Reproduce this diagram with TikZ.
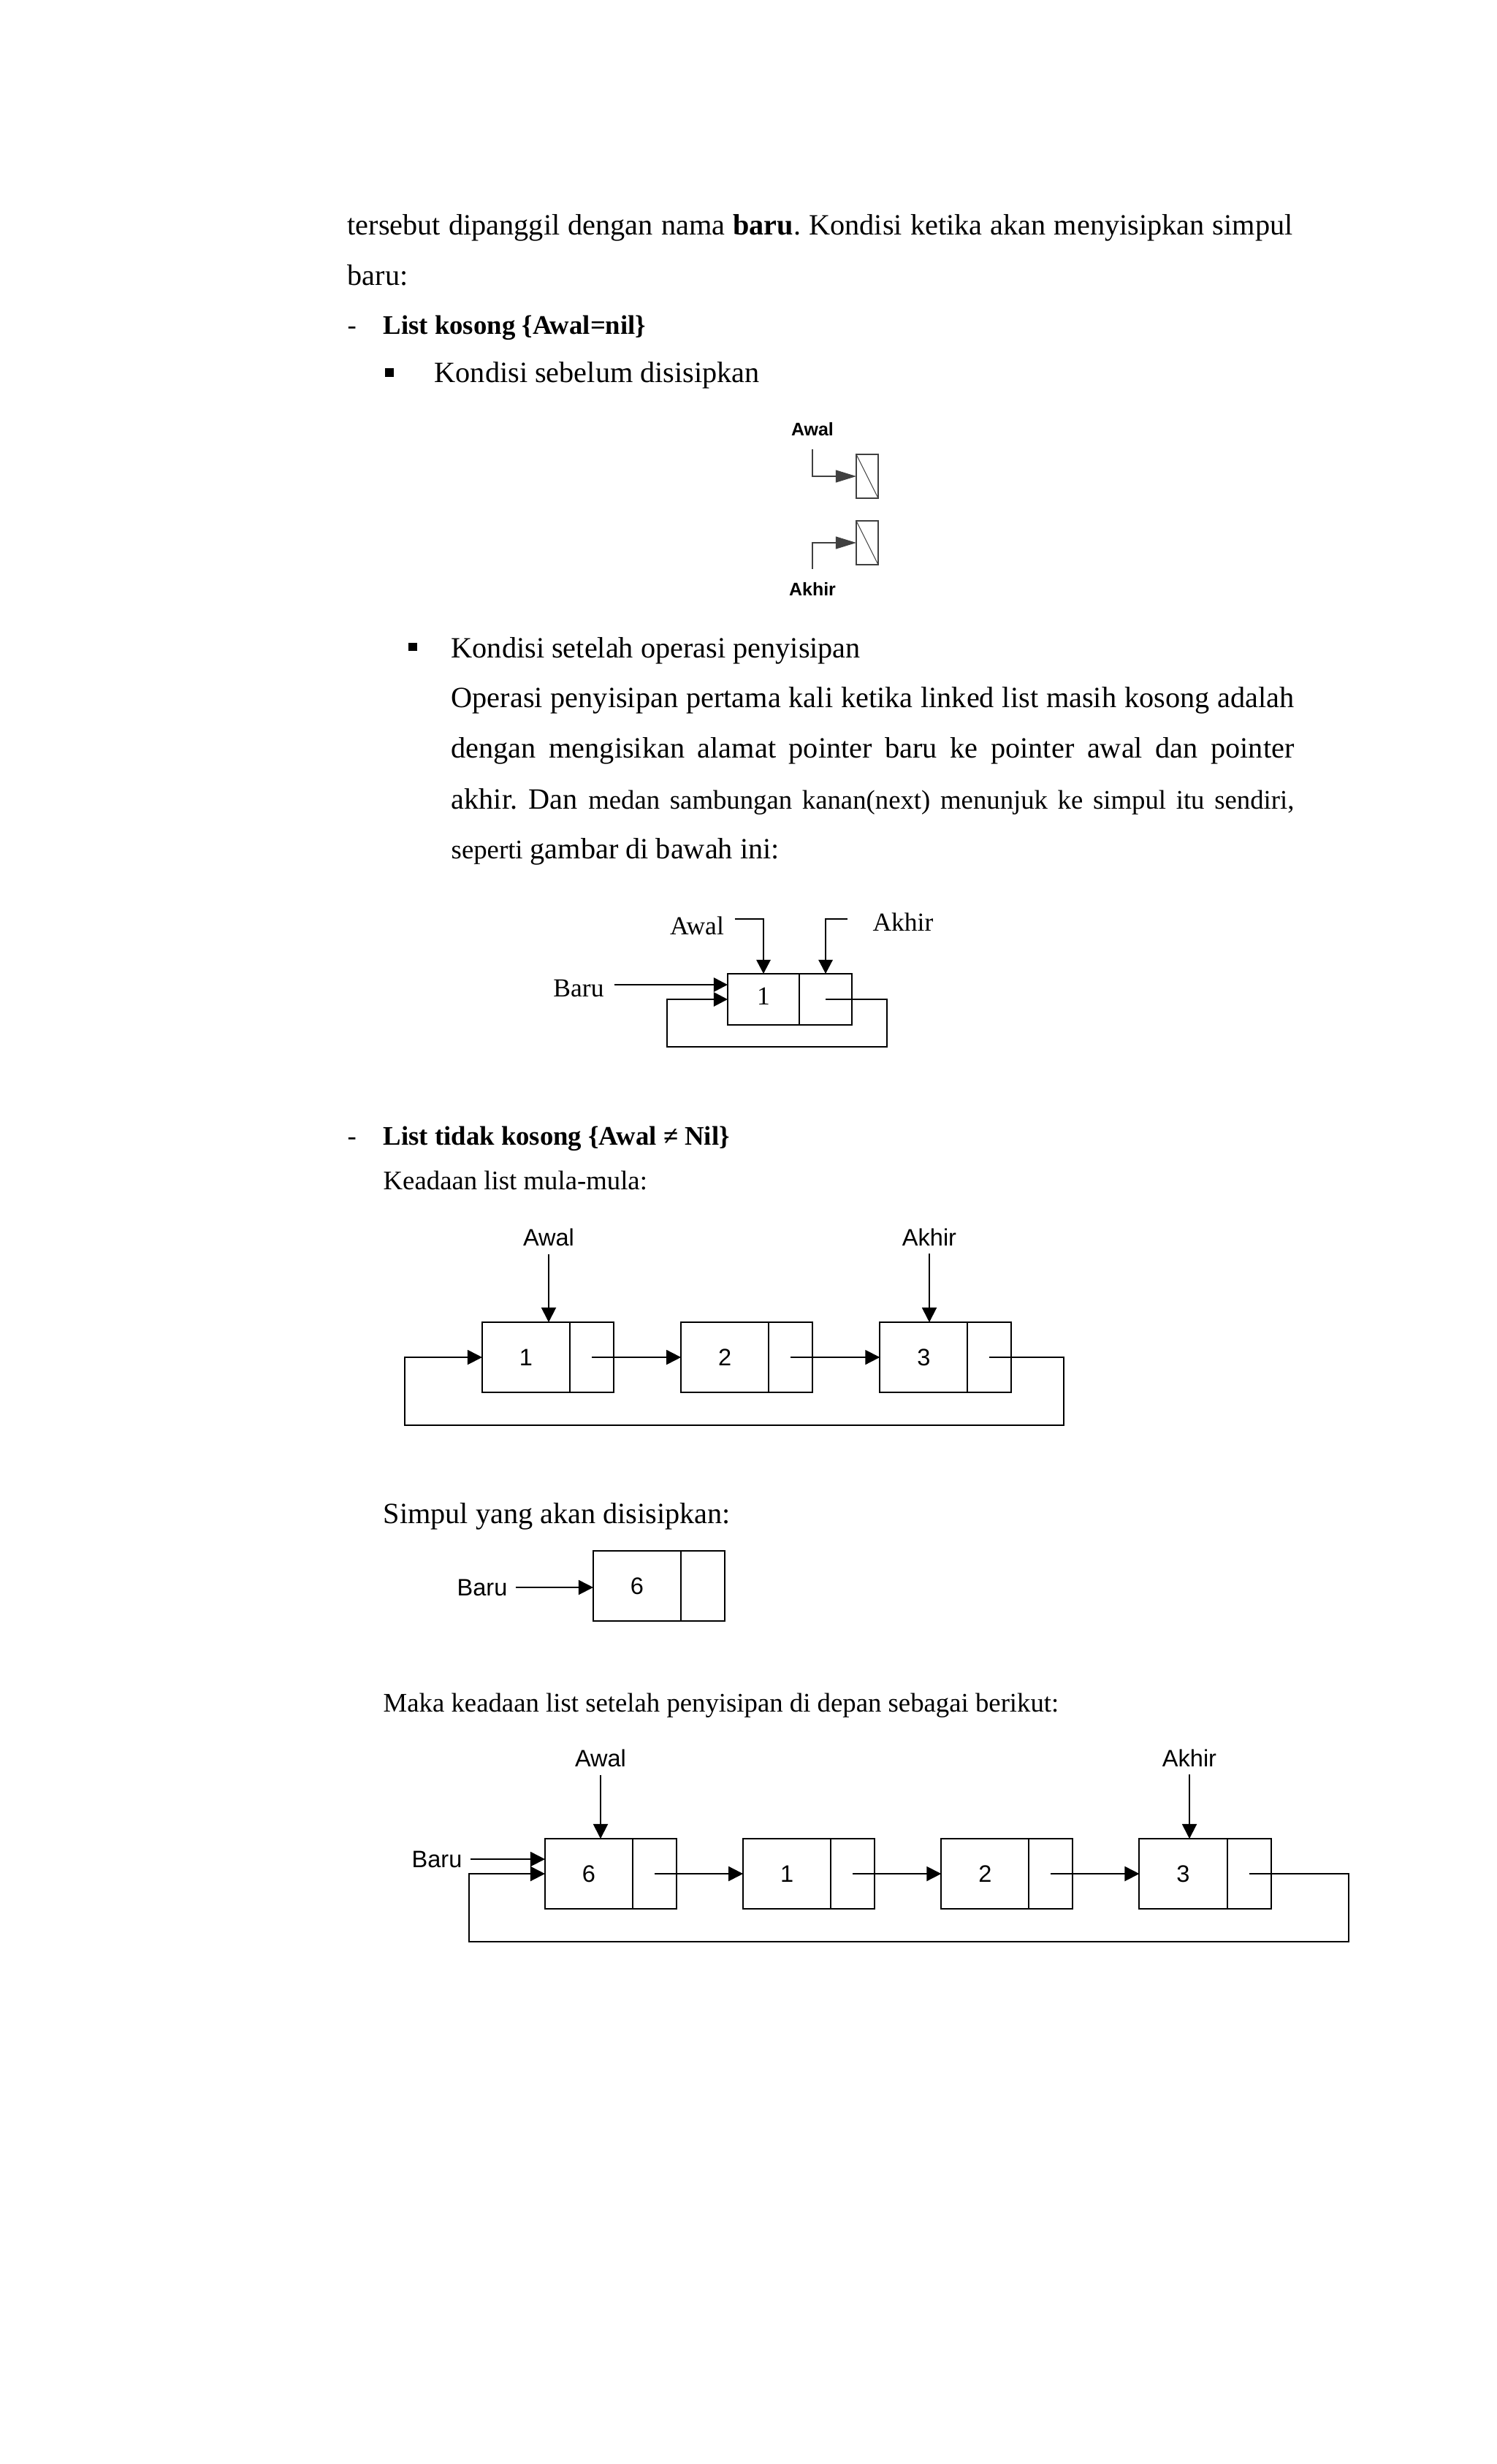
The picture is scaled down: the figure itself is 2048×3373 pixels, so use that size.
\documentclass[tikz,border=0pt]{standalone}
\usepackage{fontspec}
\setmainfont{Liberation Serif}
\newfontfamily\arialfont{Liberation Sans}
\usetikzlibrary{arrows.meta,positioning}
\frenchspacing

\newcommand{\bodysize}{\fontsize{11.45pt}{13pt}\selectfont}
\newcommand{\smallsize}{\fontsize{10.45pt}{12pt}\selectfont}
\newcommand{\labelsize}{\arialfont\fontsize{9.25pt}{11pt}\selectfont}
\newcommand{\tinylabel}{\arialfont\bfseries\fontsize{7.1pt}{8pt}\selectfont}
\newcommand{\serlabel}{\fontsize{10.1pt}{12pt}\selectfont}

\begin{document}
\begin{tikzpicture}[x=0.01cm, y=-0.01cm,
    txt/.style={anchor=base west, inner sep=0pt, font=\bodysize},
    smalltxt/.style={anchor=base west, inner sep=0pt, font=\smallsize},
    sqbullet/.style={fill, inner sep=0pt, minimum width=0.12cm, minimum height=0.11cm},
    lbl/.style={inner sep=3pt, font=\labelsize},
    datacell/.style={draw, line width=0.55pt, outer sep=0pt, inner sep=0pt, minimum width=1.2cm, minimum height=0.96cm, font=\labelsize},
    ptrcell/.style={draw, line width=0.55pt, outer sep=0pt, inner sep=0pt, minimum width=0.6cm, minimum height=0.96cm},
    link/.style={-{Triangle[length=0.2cm, width=0.2cm]}, line width=0.55pt},
    % first-insert picture
    datacell2/.style={draw, line width=0.8pt, outer sep=0pt, inner sep=0pt, minimum width=0.98cm, minimum height=0.7cm, font=\serlabel},
    ptrcell2/.style={draw, line width=0.8pt, outer sep=0pt, inner sep=0pt, minimum width=0.72cm, minimum height=0.7cm},
    lbl2/.style={inner sep=4pt, font=\serlabel},
    link2/.style={-{Triangle[length=0.19cm, width=0.19cm]}, line width=0.8pt},
    % empty list picture
    nilbox/.style={draw=black!75, line width=0.3pt, outer sep=0pt, inner sep=0pt, minimum width=0.3cm, minimum height=0.6cm},
    nillink/.style={-{Triangle[length=0.28cm, width=0.17cm]}, draw=black!75, line width=0.3pt}
]
\useasboundingbox (0,0) rectangle (2048,3373);

% text above
\node[txt] (l1) at (475,322) {\makebox[12.93cm][s]{tersebut dipanggil dengan nama \textbf{baru}. Kondisi ketika akan menyisipkan simpul}};
\node[txt] (l2) at (475,391) {baru:};
\node[smalltxt] (dash1) at (475,458) {-};
\node[smalltxt] (head1) at (524,458) {\textbf{List kosong \{Awal=nil\}}};
\node[sqbullet] (sq1) at (533,510) {};
\node[txt] (sub1) at (594,523) {Kondisi sebelum disisipkan};

% empty list
\node[nilbox] (nil1) at (1187,652) {};
\node[nilbox] (nil2) at (1187,743) {};
\draw[draw=black!75, line width=0.3pt] (nil1.north west) -- (nil1.south east);
\draw[draw=black!75, line width=0.3pt] (nil2.north west) -- (nil2.south east);
\node[font=\tinylabel, inner sep=5pt] (awal1) at (1112,588) {Awal};
\node[font=\tinylabel, inner sep=5pt] (akhir1) at (1112,806) {Akhir};
\draw[nillink] (awal1.south) |- (nil1.west);
\draw[nillink] (akhir1.north) |- (nil2.west);

\node[sqbullet] (sq2) at (565,885) {};
\node[txt] (sub2) at (617,900) {Kondisi setelah operasi penyisipan};
\node[txt] (p1) at (617,968) {\makebox[11.53cm][s]{Operasi penyisipan pertama kali ketika linked list masih kosong adalah}};
\node[txt] (p2) at (617,1037) {\makebox[11.53cm][s]{dengan mengisikan alamat pointer baru ke pointer awal dan pointer}};
\node[txt] (p3) at (617,1107) {\makebox[11.53cm][s]{akhir. Dan {\smallsize medan sambungan kanan(next) menunjuk ke simpul itu sendiri,}}};
\node[txt] (p4) at (617,1175) {{\smallsize seperti} gambar di bawah ini:};

% first node
\node[datacell2] (c1) at (1045,1368) {\raisebox{2.5pt}{1}};
\node[ptrcell2, right=0pt of c1] (c1p) {};
\node[lbl2] (awal2) at (954,1267) {Awal};
\node[lbl2] (akhir2) at (1236,1262) {Akhir};
\node[lbl2] (baru2) at (792,1353) {Baru};
\coordinate (loopR2) at (1214,1433);
\coordinate (loopL2) at (913,1433);
\draw[link2] ([shift={(0,-9)}]awal2.east) -| (c1.north);
\draw[link2] ([shift={(-20,-4)}]akhir2.west) -| (c1p.north);
\draw[link2] ([shift={(0,-5)}]baru2.east) -- ([shift={(0,-5)}]baru2.east -| c1.west);
\draw[link2] (c1p.center) -| (loopR2) -- (loopL2) |- (c1.west);

\node[smalltxt] (dash2) at (475,1567) {-};
\node[smalltxt] (head2) at (524,1567) {\textbf{List tidak kosong \{Awal ≠ Nil\}}};
\node[smalltxt] (k1) at (524,1628) {Keadaan list mula-mula:};

% list 1 2 3
\node[datacell] (a1) at (720,1858) {1};
\node[ptrcell, right=0pt of a1] (a1p) {};
\node[datacell, right=0.92cm of a1p] (a2) {2};
\node[ptrcell, right=0pt of a2] (a2p) {};
\node[datacell, right=0.92cm of a2p] (a3) {3};
\node[ptrcell, right=0pt of a3] (a3p) {};
\node[lbl, anchor=base] (awal3) at (751,1705) {Awal};
\node[lbl, anchor=base] (akhir3) at (1272,1705) {Akhir};
\coordinate (loopR3) at (1456,1951);
\coordinate (loopL3) at (554,1951);
\draw[link] (awal3) -- (awal3 |- a1.north);
\draw[link] (akhir3) -- (akhir3 |- a3.north);
\draw[link] (a1p.center) -- (a2.west);
\draw[link] (a2p.center) -- (a3.west);
\draw[link] (a3p.center) -| (loopR3) -- (loopL3) |- (a1.west);

\node[txt] (k2) at (524,2085) {Simpul yang akan disisipkan:};

% new node
\node[datacell] (b6) at (872,2171) {6};
\node[ptrcell, right=0pt of b6] (b6p) {};
\node[lbl] (baru4) at (660,2173) {Baru};
\draw[link] (baru4.east) -- (baru4.east -| b6.west);

\node[smalltxt] (k3) at (524,2343) {Maka keadaan list setelah penyisipan di depan sebagai berikut:};

% list 6 1 2 3
\node[datacell] (d6) at (806,2565) {6};
\node[ptrcell, right=0pt of d6] (d6p) {};
\node[datacell, right=0.91cm of d6p] (d1) {1};
\node[ptrcell, right=0pt of d1] (d1p) {};
\node[datacell, right=0.91cm of d1p] (d2) {2};
\node[ptrcell, right=0pt of d2] (d2p) {};
\node[datacell, right=0.91cm of d2p] (d3) {3};
\node[ptrcell, right=0pt of d3] (d3p) {};
\node[lbl, anchor=base] (awal5) at (822,2418) {Awal};
\node[lbl, anchor=base] (akhir5) at (1628,2418) {Akhir};
\node[lbl] (baru5) at (598,2545) {Baru};
\coordinate (loopR5) at (1846,2658);
\coordinate (loopL5) at (642,2658);
\draw[link] (awal5) -- (awal5 |- d6.north);
\draw[link] (akhir5) -- (akhir5 |- d3.north);
\draw[link] (baru5.east) -- (baru5.east -| d6.west);
\draw[link] (d6p.center) -- (d1.west);
\draw[link] (d1p.center) -- (d2.west);
\draw[link] (d2p.center) -- (d3.west);
\draw[link] (d3p.center) -| (loopR5) -- (loopL5) |- (d6.west);
\end{tikzpicture}
\end{document}
